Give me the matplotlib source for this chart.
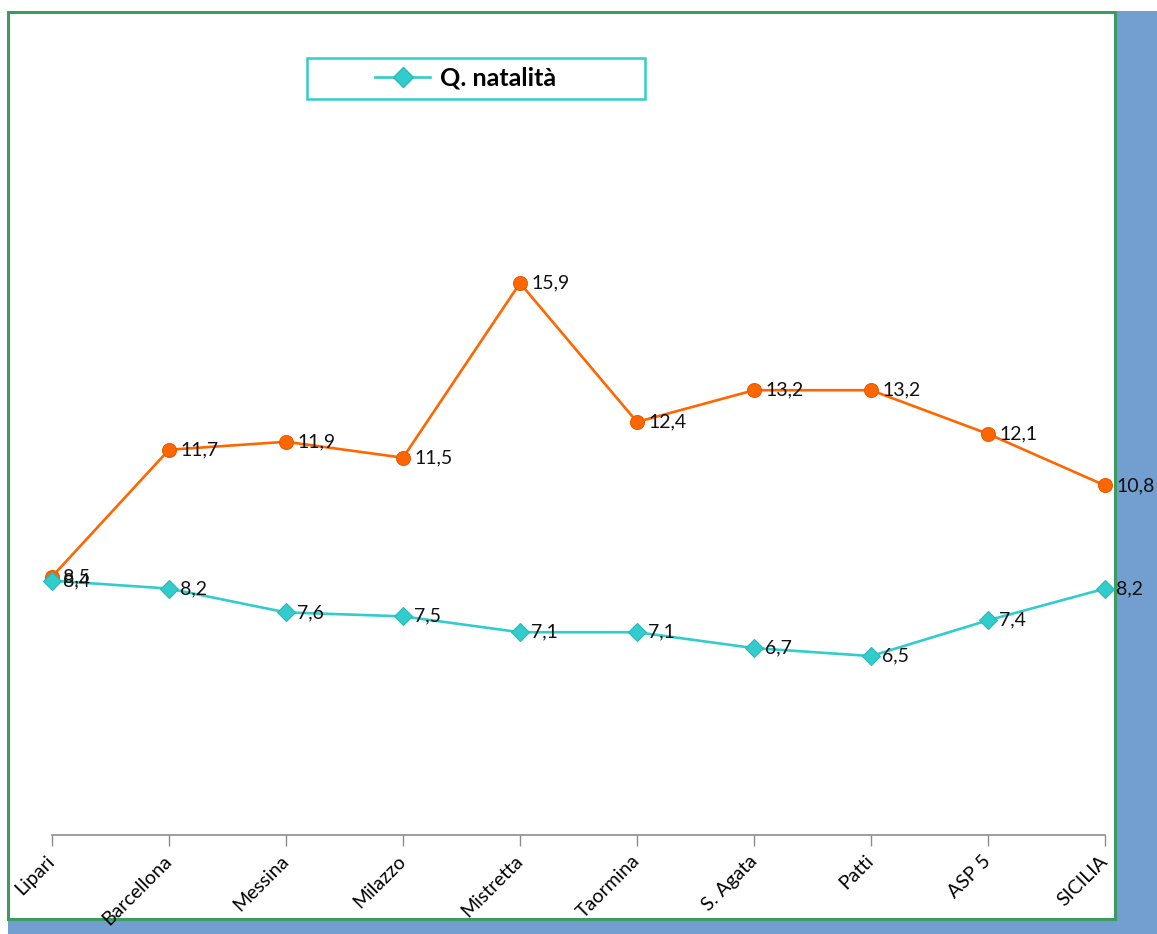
import matplotlib
matplotlib.use("Agg")
import matplotlib.pyplot as plt
from matplotlib.patches import Rectangle
from matplotlib.lines import Line2D

# Districts and rates (per 1000 inhabitants)
districts = ["Lipari", "Barcellona", "Messina", "Milazzo", "Mistretta",
             "Taormina", "S. Agata", "Patti", "ASP 5", "SICILIA"]
natalita = [8.4, 8.2, 7.6, 7.5, 7.1, 7.1, 6.7, 6.5, 7.4, 8.2]
mortalita = [8.5, 11.7, 11.9, 11.5, 15.9, 12.4, 13.2, 13.2, 12.1, 10.8]

CYAN = "#33CCCC"
ORANGE = "#FF6600"
GREEN = "#3C9B61"
BLUE = "#729FCF"
FONT = ["Lato", "DejaVu Sans"]

W, H = 1157, 934
fig = plt.figure(figsize=(W / 100, H / 100), dpi=100)
fig.patch.set_facecolor("white")


def fx(px):
    return px / W


def fy(py):
    return 1 - py / H


# blue backdrop offset to the lower right, white chart panel with green border on top
fig.add_artist(Rectangle((fx(8), fy(934)), fx(1157 - 8), (934 - 11) / H,
                         transform=fig.transFigure, facecolor=BLUE,
                         edgecolor="none", zorder=0))
fig.add_artist(Rectangle((fx(8), fy(919)), fx(1115 - 8), (919 - 12) / H,
                         transform=fig.transFigure, facecolor="white",
                         edgecolor=GREEN, linewidth=2.2, zorder=0.5))

ax = fig.add_axes([fx(52), fy(834.6), fx(1105 - 52), (834.6 - 120.4) / H])
ax.set_facecolor("none")
ax.set_zorder(1)

x = list(range(len(districts)))
ax.plot(x, mortalita, color=ORANGE, linewidth=1.9, marker="o",
        markersize=10, markerfacecolor=ORANGE, markeredgecolor="#E85A00",
        markeredgewidth=0.8, clip_on=False, zorder=3)
ax.plot(x, natalita, color=CYAN, linewidth=1.9, marker="D",
        markersize=9, markerfacecolor=CYAN, markeredgecolor="#2BB8B8",
        markeredgewidth=0.8, clip_on=False, zorder=3)

for series in (mortalita, natalita):
    for xi, v in zip(x, series):
        ax.annotate(f"{v:.1f}".replace(".", ","), (xi, v), xytext=(8, 0),
                    textcoords="offset points", ha="left", va="center",
                    fontsize=14, family=FONT, color="#111111",
                    annotation_clip=False, zorder=4)

ax.set_xlim(0, len(districts) - 1)
ax.set_ylim(2, 20)
ax.set_yticks([])
for side in ("left", "right", "top"):
    ax.spines[side].set_visible(False)
ax.spines["bottom"].set_color("#8C8C8C")
ax.spines["bottom"].set_linewidth(1.2)
ax.set_xticks(x)
ax.set_xticklabels(districts, rotation=45, ha="right", va="center",
                   rotation_mode="anchor", fontsize=14, family=FONT)
ax.tick_params(axis="x", length=8, width=1.0, color="#8C8C8C", pad=9)

# legend (natality only) inside a cyan-framed box
fig.add_artist(Rectangle((fx(307), fy(99)), fx(645 - 307), (99 - 58) / H,
                         transform=fig.transFigure, facecolor="white",
                         edgecolor=CYAN, linewidth=1.8, zorder=2))
handle = Line2D([], [], color=CYAN, linewidth=1.9, marker="D",
                markersize=10, markerfacecolor=CYAN,
                markeredgecolor="#2BB8B8")
leg = fig.legend(handles=[handle], labels=["Q. natalità"], loc="center",
                 bbox_to_anchor=(fx(466), fy(78)), frameon=False,
                 handlelength=2.2, handletextpad=0.4,
                 prop={"family": FONT, "weight": "bold", "size": 18})
leg.set_zorder(3)

fig.savefig("out.png", dpi=100, facecolor="white")
